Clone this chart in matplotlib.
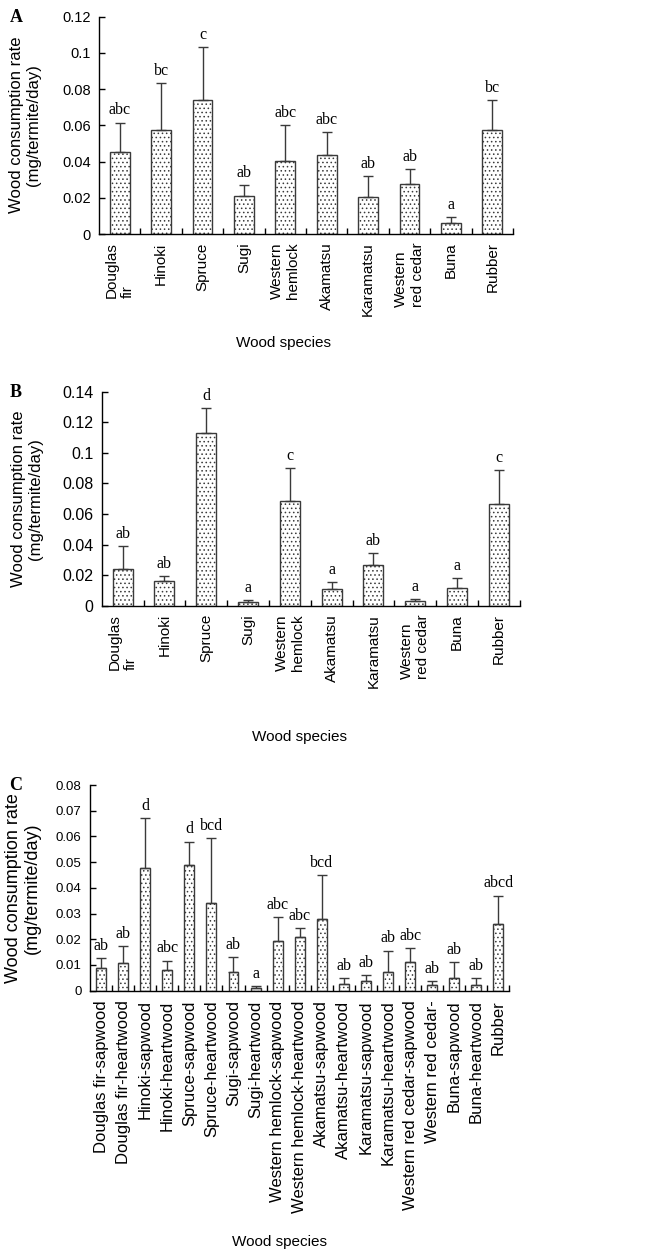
import numpy as np
import matplotlib
matplotlib.use("Agg")
import matplotlib.pyplot as plt

plt.rcParams['font.family'] = ['Liberation Sans', 'DejaVu Sans']
plt.rcParams['hatch.linewidth'] = 0.6

# ---- data ----
species_ab = ['Douglas\nfir', 'Hinoki', 'Spruce', 'Sugi', 'Western\nhemlock',
              'Akamatsu', 'Karamatsu', 'Western\nred cedar', 'Buna', 'Rubber']

a_mean = [0.0455, 0.0575, 0.074, 0.0212, 0.0403, 0.0435, 0.0206, 0.0278, 0.0063, 0.0575]
a_err = [0.016, 0.026, 0.029, 0.006, 0.0197, 0.013, 0.0114, 0.0079, 0.0031, 0.0165]
a_letters = ['abc', 'bc', 'c', 'ab', 'abc', 'abc', 'ab', 'ab', 'a', 'bc']

b_mean = [0.0238, 0.0161, 0.1132, 0.0024, 0.0687, 0.0107, 0.0266, 0.0033, 0.0113, 0.0663]
b_err = [0.0152, 0.0035, 0.0163, 0.0013, 0.0213, 0.0046, 0.0076, 0.0013, 0.007, 0.0224]
b_letters = ['ab', 'ab', 'd', 'a', 'c', 'a', 'ab', 'a', 'a', 'c']

species_c = ['Douglas fir-sapwood', 'Douglas fir-heartwood', 'Hinoki-sapwood',
             'Hinoki-heartwood', 'Spruce-sapwood', 'Spruce-heartwood', 'Sugi-sapwood',
             'Sugi-heartwood', 'Western hemlock-sapwood', 'Western hemlock-heartwood',
             'Akamatsu-sapwood', 'Akamatsu-heartwood', 'Karamatsu-sapwood',
             'Karamatsu-heartwood', 'Western red cedar-sapwood', 'Western red cedar-',
             'Buna-sapwood', 'Buna-heartwood', 'Rubber']
c_mean = [0.0087, 0.0106, 0.0479, 0.008, 0.0488, 0.0341, 0.0074, 0.0012, 0.0192, 0.0209,
          0.028, 0.0025, 0.0036, 0.0071, 0.0112, 0.0021, 0.0049, 0.0021, 0.0258]
c_err = [0.0041, 0.0067, 0.0191, 0.0037, 0.0092, 0.0254, 0.0058, 0.0007, 0.0093, 0.0035,
         0.0171, 0.0024, 0.0025, 0.0085, 0.0054, 0.0015, 0.0063, 0.0028, 0.0112]
c_letters = ['ab', 'ab', 'd', 'abc', 'd', 'bcd', 'ab', 'a', 'abc', 'abc', 'bcd',
             'ab', 'ab', 'ab', 'abc', 'ab', 'ab', 'ab', 'abcd']

W, H = 666, 1252
fig = plt.figure(figsize=(W / 100, H / 100), dpi=100)
serif = ['Liberation Serif', 'DejaVu Serif']


def px_axes(x0, y0, x1, y1):
    return fig.add_axes([x0 / W, 1 - y1 / H, (x1 - x0) / W, (y1 - y0) / H])


def panel(ax, labels, mean, err, letters, ymax, ystep, width,
          ytick_size, xtick_size, xpad):
    x = np.arange(len(labels))
    ax.bar(x, mean, width=width, color='white', edgecolor='#3a3a3a',
           linewidth=1.0, hatch='....', zorder=2)
    ax.errorbar(x, mean, yerr=[np.zeros(len(err)), err], fmt='none',
                ecolor='#3a3a3a', elinewidth=1.0, capsize=3.5, capthick=1.0, zorder=3)
    for xi, m, e, s in zip(x, mean, err, letters):
        ax.annotate(s, (xi, m + e), xytext=(0, 3), textcoords='offset points',
                    ha='center', va='bottom', fontsize=11.5, family=serif)
    ax.set_xlim(-0.5, len(labels) - 0.5)
    ax.set_ylim(0, ymax)
    yt = np.arange(0, ymax + ystep / 2, ystep)
    ax.set_yticks(yt)
    ax.set_yticklabels([f"{v:g}" for v in yt], fontsize=ytick_size)
    ax.set_xticks(x)
    ax.set_xticklabels(labels, rotation=90, fontsize=xtick_size,
                       ha='center', va='top', multialignment='left')
    ax.set_xticks(np.arange(len(labels)) + 0.5, minor=True)
    ax.tick_params(axis='x', which='major', length=0, pad=xpad)
    ax.tick_params(axis='x', which='minor', direction='in', length=4, width=1)
    ax.tick_params(axis='y', direction='in', length=4, width=1, pad=6)
    for sp in ['top', 'right']:
        ax.spines[sp].set_visible(False)
    for sp in ['left', 'bottom']:
        ax.spines[sp].set_linewidth(1.0)


ax_a = px_axes(99, 16.7, 513, 234)
panel(ax_a, species_ab, a_mean, a_err, a_letters, 0.12, 0.02, 0.48, 10.5, 11, 6)
ax_b = px_axes(101.7, 391.7, 519.7, 605.7)
panel(ax_b, species_ab, b_mean, b_err, b_letters, 0.14, 0.02, 0.48, 11.5, 11, 6)
ax_c = px_axes(90, 785, 509.4, 990.7)
panel(ax_c, species_c, c_mean, c_err, c_letters, 0.08, 0.01, 0.45, 9.5, 12, 7)

ylab = 'Wood consumption rate\n(mg/termite/day)'
for letter, (lx, ly), (yx, yy, ys), (xx, xy) in [
        ('A', (16, 18), (25, 125, 12), (284, 343)),
        ('B', (16, 393), (27, 499, 12), (300, 737)),
        ('C', (16, 785), (23, 888, 13), (279, 1242))]:
    fig.text(lx / W, 1 - ly / H, letter, family=serif, fontweight='bold',
             fontsize=13, ha='center', va='center')
    fig.text(yx / W, 1 - yy / H, ylab, rotation=90, fontsize=ys,
             ha='center', va='center', multialignment='center')
    fig.text(xx / W, 1 - xy / H, 'Wood species', fontsize=11,
             ha='center', va='center')

fig.savefig('out.png', dpi=100)
